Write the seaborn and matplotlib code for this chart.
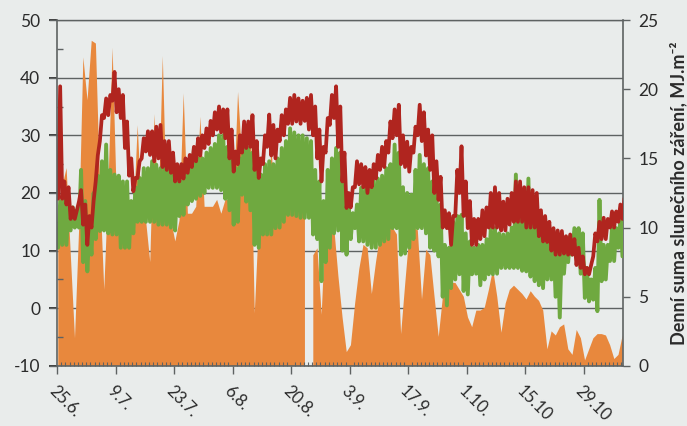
import numpy as np
import pandas as pd
import matplotlib
matplotlib.use("Agg")
import matplotlib.pyplot as plt
from matplotlib.ticker import MultipleLocator
import seaborn as sns

# ---------------- data ----------------
tick_days = [0, 14, 28, 42, 56, 70, 84, 98, 112, 126]
tick_labels = ["25.6.", "9.7.", "23.7.", "6.8.", "20.8.", "3.9.", "17.9.", "1.10.", "15.10", "29.10"]

# daily solar radiation sum, MJ.m-2 (right axis); None = missing day
radiation = [
    10.5, 13, 14.3, 8, 2.0, 10, 22.3, 19.2, 23.5, 23.3, 13, 5.5, 13, 23, 12, 8.4, 10, 10, 10.5, 17.4, 11, 10.5, 7.5,
    18.2, 11, 22.4, 11, 10.5, 9.0, 10.5, 19.7, 11, 11, 11.5, 18, 11.5, 11.5, 11.5, 12, 11, 12, 12, 12, 19.8, 15,
    12, 18.5, 3.8, 10.5, 11, 11, 15.8, 11, 11.3, 11.5, 11.5, 11.5, 11.5, 11.5, 11.3, None, 8, 8.5, 3.7, 10.5, 10.5, 10, 6.5,
    3.5, 1.0, 1.5, 4.5, 7, 8.75, 8.5, 5.2, 7.5, 9.5, 10.2, 10.2, 10, 9.5, 2.3, 6, 9.5, 10, 9.8, 4.8, 8.4, 8,
    5, 2.1, 5, 5.8, 6, 6, 5.5, 5, 3.5, 2.8, 4, 4, 4.2, 5.5, 7, 5, 2.4, 4.5, 5.5, 5.8, 5.5, 5.2, 4.8,
    5.4, 5, 4.7, 4, 1.2, 2.5, 2.2, 2.8, 3.0, 1.2, 0.8, 2.6, 2.0, 0.4, 1.2, 2.0, 2.3, 2.3, 2.2, 1.5, 0.5, 0.8, 2.2,
]

# red series: daily high / low (left axis)
red_hi = [
    38.5, 22, 21, 17.5, 17, 20.5, 18, 16, 18.6, 26.5, 33.5, 36.4, 37, 41, 38, 37, 32.4, 26, 22.6, 25.5, 29.5, 30.7, 30.7,
    31.5, 31.8, 29, 29, 27, 25, 25, 26, 26.6, 28, 29.5, 30, 31.2, 32.5, 34, 35, 34.5, 34.5, 31, 27.2, 30, 32.4,
    32.4, 33.5, 29, 26, 30, 33.6, 31.8, 31, 33.5, 34.5, 36.5, 37, 36.4, 36, 36.5, 37, 35, 31, 28, 33, 37, 38.5, 35,
    27, 20, 21, 25.5, 25, 24.5, 24, 25, 26.6, 28, 29, 32.4, 34.5, 35.3, 30, 28.9, 28, 31.5, 35.3, 34, 31, 30,
    25.5, 22.8, 17, 16.5, 16, 24, 28.1, 22, 18.6, 15.5, 15.5, 17, 17.5, 20, 21, 20, 18.5, 19, 20, 22, 22, 21, 21,
    20.5, 20, 17, 16, 15, 13.9, 13.5, 13.4, 12.5, 12.8, 12, 10.5, 9, 7, 7.5, 13, 15, 15.7, 15.5, 16.8, 16.8, 18, 19.1,
]
red_lo = [
    19, 19, 18, 15.5, 15.5, 18.5, 14.5, 11, 14, 22, 29, 33, 33.5, 36, 34, 33, 27.8, 23, 20.3, 22.6, 26, 27.2, 26.6,
    25.5, 26, 24.5, 24, 23.5, 22, 22, 22.5, 23.5, 24.5, 25.5, 26.5, 27.8, 28.5, 30, 31, 30.5, 29.5, 26, 23.7, 25, 27,
    27.8, 28, 24, 22.6, 25, 28, 26.5, 26, 29, 30, 32, 32, 32.4, 32, 32.5, 31, 30, 26, 22, 27, 31.8, 33, 28,
    22, 17.4, 17.5, 21, 21.5, 21, 20, 21, 22.5, 24, 24.5, 27, 29.5, 30, 25, 24.5, 23.7, 27, 30, 29, 26.5, 24,
    20, 18.8, 14, 13.9, 11, 16, 20, 16, 13.9, 11, 11, 12, 12.5, 14, 14, 14, 13.5, 13.5, 14.5, 15, 15, 15, 14,
    14, 14, 12.5, 11.6, 11.5, 10, 9.3, 9.3, 9.5, 9.3, 9.3, 7.5, 7, 5.9, 5.9, 9, 11.6, 12, 12, 14, 14, 15, 15.5,
]

# green series: daily high / low (left axis)
green_hi = [
    18.6, 19, 18, 17.5, 17, 24, 18.6, 14, 20, 23, 25.5, 28.4, 24, 23.2, 23, 22, 22, 18.6, 21, 22.6, 24.3, 24.3, 25.5,
    24.9, 24.3, 24.3, 24.5, 23.5, 22, 22, 24, 26, 27.8, 26, 26, 27, 27.8, 28.5, 30, 30, 28, 27, 24.3, 26, 31.2,
    27.8, 27, 24, 23.2, 25, 25.5, 25, 26, 27.8, 29, 31.2, 30.5, 30, 30, 29.5, 29, 24, 22, 18.6, 24, 26, 27.8, 27,
    21.5, 18, 16.5, 18, 20.9, 21, 22, 22, 22.5, 23, 24.3, 25, 28.4, 27, 21, 20, 19.7, 24, 26.6, 25, 24.3, 22,
    20, 18, 11, 10.5, 15, 16, 16.2, 13, 11.6, 10.5, 11, 11, 12, 13.9, 13.9, 13, 12.8, 13, 14, 23.2, 18, 16, 22.5,
    17, 19, 15, 13.4, 13, 12.5, 12, 11.5, 11, 12.5, 13.9, 13.9, 13, 7, 5, 7, 18.8, 11, 11, 13.9, 13.9, 15.7, 16,
]
green_lo = [
    10.5, 11, 11, 13.5, 14, 14, 8, 6.4, 9.3, 12, 13.4, 13.5, 13, 12.8, 12.8, 10.5, 10.5, 10.5, 13, 15, 15, 15, 15,
    15, 14.5, 14.5, 14.5, 14, 13.5, 16, 16.2, 18, 18.6, 19, 19.5, 20, 20.9, 20.9, 20.9, 20.5, 19, 17, 14.5, 15, 19.7,
    18.5, 17, 11, 10.5, 12.8, 12.8, 12.8, 13.9, 14, 15, 16.2, 16.2, 16, 15.7, 15.7, 15.7, 12.8, 12, 4.7, 8, 10.5, 13, 13.5,
    10, 9.3, 12, 13.9, 11.6, 11.6, 11, 10.5, 10.5, 11, 11.6, 12, 13.9, 13.9, 9.3, 9.5, 10.5, 12, 13.9, 13.9, 13, 10.5,
    10, 9, 2, 0.5, 3.5, 5, 5.9, 3, 2.4, 5.9, 6, 4, 5, 5.9, 5.9, 6, 7, 7, 7, 7, 7, 6.5, 6.4,
    5.5, 4.7, 4, 3.5, 5, 5, 2, -1.6, 6, 8, 9.3, 9.3, 6, 1.8, 1.2, 1.5, -0.5, 4.7, 5, 8.2, 8.2, 10.5, 9,
]

right_label = "Denní suma slunečního záření, MJ.m\u207b\u00b2"

# ---------------- styling ----------------
BG = "#E9ECEB"
ORANGE = "#E8883D"
RED = "#B0251F"
GREEN = "#6FA940"
GRID = "#5E6262"
TXT = "#2B2B2B"

sns.set_theme(style="white")
plt.rcParams["font.family"] = ["Lato", "DejaVu Sans"]
plt.rcParams["axes.unicode_minus"] = False

days = np.arange(len(radiation), dtype=float)
rad = np.array([np.nan if v is None else v for v in radiation], dtype=float)

# two readings per day (low, high) -> dense band-like line
zig_x = np.ravel(np.column_stack([days + 0.25, days + 0.75]))
df = pd.DataFrame({
    "day": zig_x,
    "red": np.ravel(np.column_stack([red_lo, red_hi])),
    "green": np.ravel(np.column_stack([green_lo, green_hi])),
})

fig = plt.figure(figsize=(6.87, 4.26), dpi=100, facecolor=BG)
rect = [0.083, 0.141, 0.824, 0.812]
ax = fig.add_axes(rect)
ax.set_facecolor(BG)
ax.set_xlim(0, 135.4)
ax.set_ylim(-10, 50)
ax.set_yticks(range(-10, 51, 10))
ax.yaxis.grid(True, color=GRID, lw=1.0)
ax.xaxis.grid(False)
ax.tick_params(left=False, labelleft=False, bottom=False, labelbottom=False)
for s in ["left", "right", "bottom"]:
    ax.spines[s].set_visible(False)
ax.spines["top"].set_color(GRID)
ax.spines["top"].set_linewidth(1.0)

# orange area on the right scale
ax2 = ax.twinx()
ax2.fill_between(days + 0.3, 0, rad, color=ORANGE, lw=0)
ax2.set_ylim(0, 25)
ax2.set_yticks(range(0, 26, 5))
ax2.tick_params(axis="y", right=True, direction="out", length=5, width=1, color=GRID,
                labelsize=12.5, labelcolor=TXT, pad=6)
for s in ["left", "top", "bottom"]:
    ax2.spines[s].set_visible(False)
ax2.spines["right"].set_color(GRID)
ax2.spines["right"].set_linewidth(1.2)
ax2.set_ylabel(right_label, fontsize=13, fontweight="bold", color=TXT, labelpad=8)
ax2.grid(False)

# lines on the left scale, drawn on top
ax3 = ax.twinx()
ax3.set_ylim(-10, 50)
sns.lineplot(data=df, x="day", y="green", ax=ax3, color=GREEN, lw=2.8, estimator=None)
sns.lineplot(data=df, x="day", y="red", ax=ax3, color=RED, lw=2.7, estimator=None)
ax3.set_xlim(0, 135.4)
ax3.set_xlabel("")
ax3.set_ylabel("")
ax3.grid(False)
ax3.xaxis.set_visible(True)
ax3.yaxis.tick_left()
ax3.set_yticks(range(-10, 51, 10))
ax3.yaxis.set_minor_locator(MultipleLocator(5))
ax3.tick_params(axis="y", which="major", left=True, right=False, direction="out", length=6,
                width=1, color=GRID, labelsize=12.5, labelcolor=TXT, pad=6, labelleft=True, labelright=False)
ax3.tick_params(axis="y", which="minor", left=True, right=False, direction="in", length=4, width=1, color=GRID)
ax3.set_xticks(tick_days)
ax3.set_xticklabels(tick_labels, rotation=-45, ha="left", va="top", rotation_mode="anchor")
ax3.xaxis.set_minor_locator(MultipleLocator(1))
ax3.tick_params(axis="x", which="major", bottom=True, direction="out", length=6, width=1,
                color=GRID, labelsize=12, labelcolor=TXT, pad=6)
ax3.tick_params(axis="x", which="minor", bottom=True, direction="in", length=3, width=0.8, color=GRID)
for s in ["right", "top"]:
    ax3.spines[s].set_visible(False)
for s in ["left", "bottom"]:
    ax3.spines[s].set_color(GRID)
    ax3.spines[s].set_linewidth(1.2)

fig.savefig("out.png", dpi=100, facecolor=BG)
